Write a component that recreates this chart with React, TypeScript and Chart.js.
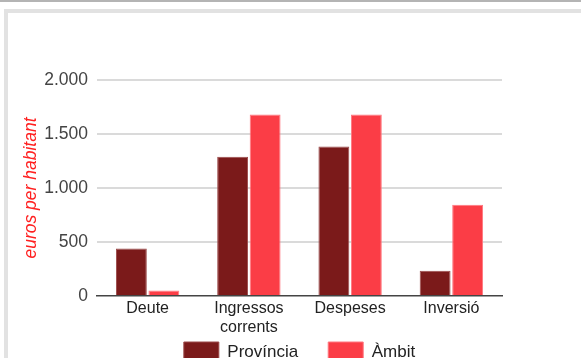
import React, { useEffect, useRef } from 'react';
import { Chart, registerables } from 'chart.js';
Chart.register(...registerables);

const categories: (string | string[])[] = ['Deute', ['Ingressos', 'corrents'], 'Despeses', 'Inversió'];
const provincia = [440, 1290, 1385, 233];
const ambit = [50, 1680, 1680, 845];
const yTicks = [0, 500, 1000, 1500, 2000];
const seriesNames = ['Província', 'Àmbit'];
const yTitle = 'euros per habitant';

const FONT = '"Liberation Sans", Arial, sans-serif';
const fmt = (v: number) => String(v).replace(/\B(?=(\d{3})+(?!\d))/g, '.');

const legendShift = {
  id: 'legendShift',
  afterLayout(chart: any) {
    const lg = chart.legend;
    if (!lg) return;
    const target = 312;
    const d = lg.top - target;
    lg.top -= d;
    lg.bottom -= d;
    if (lg.legendHitBoxes) lg.legendHitBoxes.forEach((h: any) => { h.top -= d; });
  },
};

export default function App() {
  const ref = useRef<HTMLCanvasElement | null>(null);
  useEffect(() => {
    if (!ref.current) return;
    const chart = new Chart(ref.current, {
      type: 'bar',
      data: {
        labels: categories as any,
        datasets: [
          {
            label: seriesNames[0],
            data: provincia,
            backgroundColor: '#7b1a1a',
            borderColor: '#9c4a4a',
            borderWidth: 1,
            barPercentage: 0.95,
            categoryPercentage: 0.642,
          },
          {
            label: seriesNames[1],
            data: ambit,
            backgroundColor: '#fb3d46',
            borderColor: '#ff7880',
            borderWidth: 1,
            barPercentage: 0.95,
            categoryPercentage: 0.642,
          },
        ],
      },
      plugins: [legendShift],
      options: {
        animation: false,
        responsive: false,
        devicePixelRatio: 1,
        layout: { padding: { left: 0, top: 80, right: 79, bottom: 0 } },
        plugins: {
          tooltip: { enabled: false },
          legend: {
            position: 'bottom',
            fullSize: false,
            labels: {
              boxWidth: 35,
              boxHeight: 20,
              padding: 30,
              color: '#222',
              font: { family: FONT, size: 17 },
            },
          },
        },
        scales: {
          x: {
            grid: { display: false, drawTicks: false },
            border: { display: true, color: '#444', width: 1.5 },
            ticks: { color: '#222', padding: 3, font: { family: FONT, size: 16 }, maxRotation: 0, autoSkip: false },
            afterFit: (s: any) => { s.height = 42; },
          },
          y: {
            min: 0,
            max: 2000,
            afterBuildTicks: (s: any) => { s.ticks = yTicks.map((v) => ({ value: v })); },
            grid: {
              drawTicks: false,
              lineWidth: 2,
              color: (c: any) => (c.tick && c.tick.value === 0 ? 'rgba(0,0,0,0)' : '#dadada'),
            },
            border: { display: false },
            ticks: {
              color: '#444',
              padding: 9,
              font: { family: FONT, size: 17.5 },
              callback: (v: any) => fmt(Number(v)),
            },
            title: {
              display: true,
              text: yTitle,
              color: '#ff2020',
              padding: { top: 21, bottom: 0 },
              font: { family: FONT, size: 17.5, style: 'italic' },
            },
            afterFit: (s: any) => { s.width = 97; },
          },
        },
      },
    });
    return () => chart.destroy();
  }, []);

  return (
    <div style={{ position: 'fixed', left: 0, top: 0, width: 581, height: 358, overflow: 'hidden', background: '#fff' }}>
      <div style={{ position: 'absolute', left: 0, top: 0, width: 581, height: 2, background: '#b4b4b4' }} />
      <div
        style={{
          position: 'absolute',
          left: 4,
          top: 9,
          width: 600,
          height: 400,
          borderLeft: '4px solid #e2e2e2',
          borderTop: '4px solid #e2e2e2',
          boxSizing: 'border-box',
        }}
      />
      <canvas ref={ref} width={581} height={398} style={{ position: 'absolute', left: 0, top: 0, width: 581, height: 398 }} />
    </div>
  );
}
